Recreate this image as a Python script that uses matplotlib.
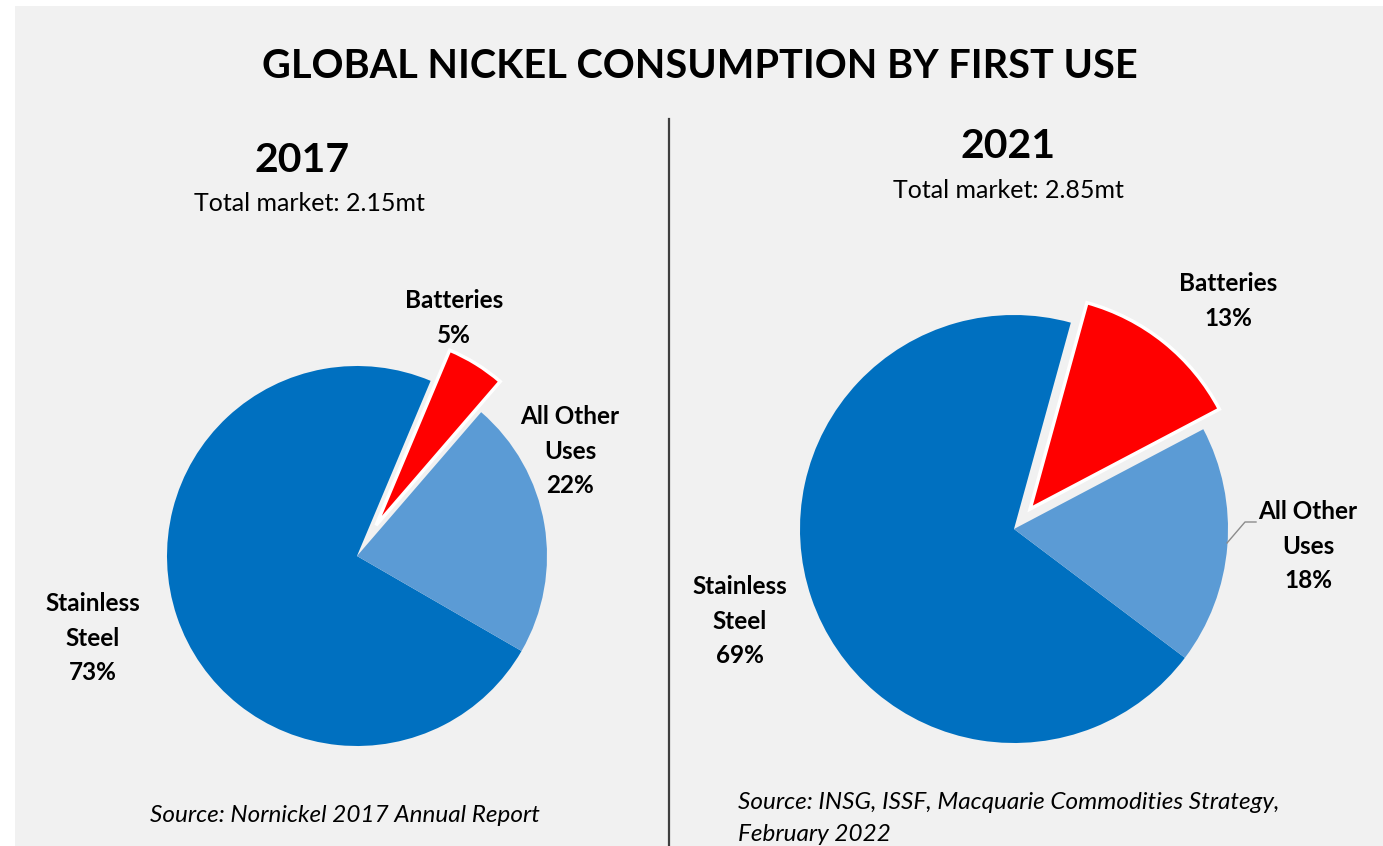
import matplotlib
matplotlib.use("Agg")
import matplotlib.pyplot as plt
from matplotlib.patches import Rectangle
from matplotlib.lines import Line2D

# ---------------- data ----------------
title = "GLOBAL NICKEL CONSUMPTION BY FIRST USE"
categories = ["Stainless\nSteel", "Batteries", "All Other\nUses"]
years = ["2017", "2021"]
totals = ["Total market: 2.15mt", "Total market: 2.85mt"]
shares_2017 = [73, 5, 22]
shares_2021 = [69, 13, 18]
sources = ["Source: Nornickel 2017 Annual Report",
           "Source: INSG, ISSF, Macquarie Commodities Strategy,\nFebruary 2022"]
colors = ["#0070C0", "#FF0000", "#5B9BD5"]

W, H = 1383, 846
BG = "#F1F1F1"
FONT = "Lato"

fig = plt.figure(figsize=(W / 100, H / 100), dpi=100)
fig.patch.set_facecolor("white")
fig.add_artist(Rectangle((15 / W, 0), 1 - 15 / W, 1 - 6 / H, transform=fig.transFigure,
                         facecolor=BG, edgecolor="none", zorder=0))


def fx(x):
    return x / W


def fy(y):
    return 1 - y / H


def pie_axes(cx, cy, r, half=320):
    ax = fig.add_axes([fx(cx - half), fy(cy + half), 2 * half / W, 2 * half / H])
    ax.axis("off")
    ax.patch.set_alpha(0)
    return ax


def draw_pie(ax, values, start, explode_b, r, half=320):
    wedges, _ = ax.pie(values, colors=colors, startangle=start, counterclock=False,
                       explode=[0, explode_b, 0], radius=1.0,
                       wedgeprops=dict(linewidth=0))
    wedges[1].set_edgecolor("white")
    wedges[1].set_linewidth(2.5)
    lim = half / r
    ax.set_xlim(-lim, lim)
    ax.set_ylim(-lim, lim)
    ax.set_aspect("equal")
    return wedges


# left pie
axL = pie_axes(357, 556, 190)
draw_pie(axL, shares_2017, -30, 0.19, 190)

# right pie
axR = pie_axes(1014, 529, 214)
draw_pie(axR, shares_2021, -37, 0.12, 214)

# title & headers
fig.text(fx(700), fy(66), title, ha="center", va="center", fontsize=28.5,
         fontweight="bold", family=FONT, color="black")
fig.text(fx(302), fy(160), years[0], ha="center", va="center", fontsize=29.5,
         fontweight="bold", family=FONT)
fig.text(fx(309), fy(203), totals[0], ha="center", va="center", fontsize=18, family=FONT)
fig.text(fx(1008), fy(147), years[1], ha="center", va="center", fontsize=29.5,
         fontweight="bold", family=FONT)
fig.text(fx(1008), fy(190), totals[1], ha="center", va="center", fontsize=18, family=FONT)

# divider
fig.add_artist(Line2D([fx(669), fx(669)], [fy(119), fy(846)], transform=fig.transFigure,
                      color="#3F3F3F", linewidth=1.6))

# slice labels
label_pos_L = [(93, 638), (454, 318), (570, 451)]
label_pos_R = [(740, 621), (1228, 301), (1308, 546)]
for (vals, pos) in [(shares_2017, label_pos_L), (shares_2021, label_pos_R)]:
    for name, v, (x, y) in zip(categories, vals, pos):
        fig.text(fx(x), fy(y), f"{name}\n{v}%", ha="center", va="center",
                 fontsize=17.5, fontweight="bold", family=FONT, linespacing=1.6)

# leader line for right "All Other Uses"
fig.add_artist(Line2D([fx(1227), fx(1245), fx(1256)], [fy(543), fy(522), fy(522)],
                      transform=fig.transFigure, color="#8C8C8C", linewidth=1.0))

# sources
fig.text(fx(345), fy(815), sources[0], ha="center", va="center", fontsize=17.5,
         style="italic", family=FONT)
fig.text(fx(738), fy(792), sources[1], ha="left", va="top", fontsize=17.5,
         style="italic", family=FONT, linespacing=1.62)

fig.savefig("out.png", dpi=100, facecolor=fig.get_facecolor())
